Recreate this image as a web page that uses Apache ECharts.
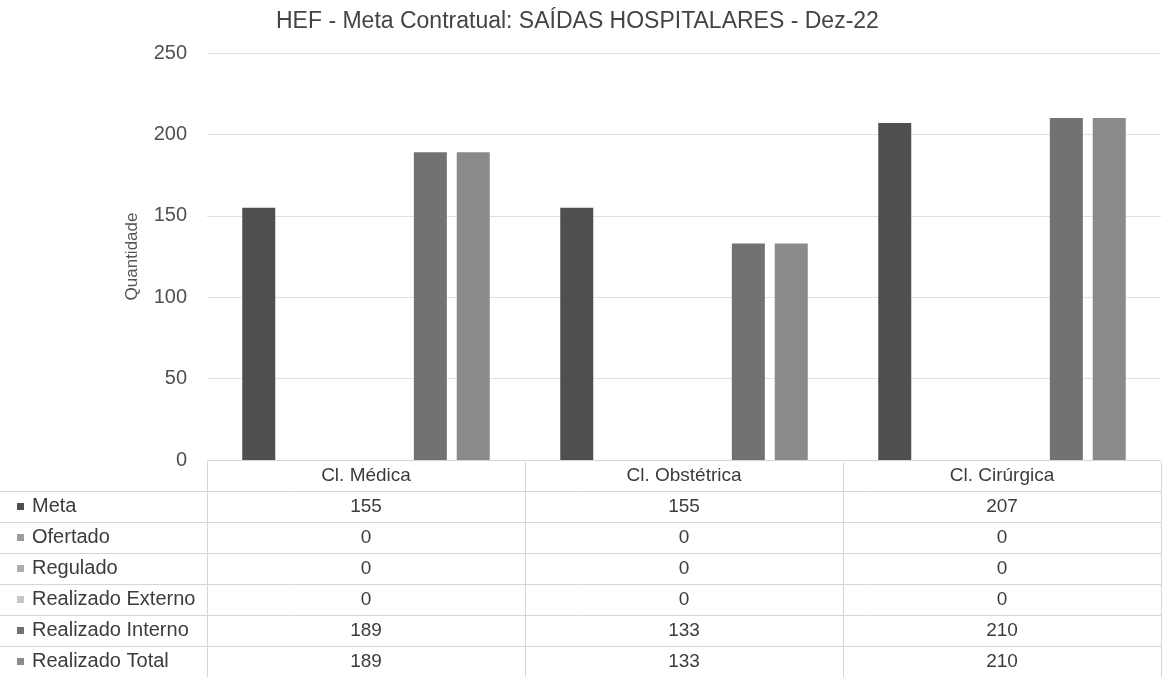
<!DOCTYPE html>
<html>
<head>
<meta charset="utf-8">
<script src="https://cdn.jsdelivr.net/npm/echarts@6/dist/echarts.min.js"></script>
<style>
html,body{margin:0;padding:0;background:#fff;}
#chart{width:1164px;height:677px;}
</style>
</head>
<body>
<div id="chart"></div>
<script>
var titleText = 'HEF - Meta Contratual: SAÍDAS HOSPITALARES - Dez-22';
var categories = ['Cl. Médica', 'Cl. Obstétrica', 'Cl. Cirúrgica'];
var seriesNames = ['Meta', 'Ofertado', 'Regulado', 'Realizado Externo', 'Realizado Interno', 'Realizado Total'];
var meta = [155, 155, 207];
var ofertado = [0, 0, 0];
var regulado = [0, 0, 0];
var realizadoExterno = [0, 0, 0];
var realizadoInterno = [189, 133, 210];
var realizadoTotal = [189, 133, 210];
var yTicks = [0, 50, 100, 150, 200, 250];

var seriesData = [meta, ofertado, regulado, realizadoExterno, realizadoInterno, realizadoTotal];
var colors = ['#4f4f4f', '#9c9c9c', '#adadad', '#c6c6c6', '#727272', '#8a8a8a'];
var FONT = '"Liberation Sans", Arial, sans-serif';
var TXT = '#3c3c3c';
var LINE = '#d6d6d6';

var chart = echarts.init(document.getElementById('chart'));

var series = seriesNames.map(function (name, i) {
  return {
    name: name,
    type: 'bar',
    xAxisIndex: 0,
    yAxisIndex: 0,
    data: seriesData[i],
    barWidth: 33,
    barGap: '30%',
    itemStyle: { color: colors[i] }
  };
});

var option = {
  animation: false,
  backgroundColor: '#fff',
  color: colors,
  title: {
    text: titleText,
    left: 271,
    top: 5,
    textStyle: { fontFamily: FONT, fontSize: 23, fontWeight: 'normal', color: '#444' }
  },
  legend: {
    orient: 'vertical',
    left: 17,
    top: 491,
    padding: 0,
    itemWidth: 7,
    itemHeight: 7,
    itemGap: 0,
    icon: 'rect',
    selectedMode: false,
    data: seriesNames,
    textStyle: { fontFamily: FONT, fontSize: 20, color: TXT, lineHeight: 31, padding: [0, 0, 0, 3] }
  },
  grid: [
    { left: 207, right: 3, top: 53, bottom: 215, containLabel: false },
    { left: 0, right: 3, top: 491, height: 186 },
    { left: 207, right: 3, top: 462, height: 215 }
  ],
  xAxis: [
    {
      type: 'category',
      gridIndex: 0,
      data: categories,
      axisLine: { show: true, lineStyle: { color: LINE, width: 1 } },
      axisTick: { show: false },
      splitLine: { show: false },
      axisLabel: {
        margin: 0,
        fontFamily: FONT,
        fontSize: 19,
        color: TXT,
        lineHeight: 31,
        formatter: function (value, index) {
          var lines = [value];
          for (var s = 0; s < seriesData.length; s++) lines.push(String(seriesData[s][index]));
          return lines.join('\n');
        }
      }
    },
    { type: 'value', gridIndex: 1, show: false, min: 0, max: 1 },
    {
      type: 'category',
      gridIndex: 2,
      data: categories,
      boundaryGap: true,
      axisLine: { show: false },
      axisTick: { show: false },
      axisLabel: { show: false },
      splitLine: { show: true, interval: 0, lineStyle: { color: LINE, width: 1 } }
    }
  ],
  yAxis: [
    {
      type: 'value',
      gridIndex: 0,
      min: yTicks[0],
      max: yTicks[yTicks.length - 1],
      interval: yTicks[1] - yTicks[0],
      name: 'Quantidade',
      nameLocation: 'middle',
      nameGap: 66,
      nameTextStyle: { fontFamily: FONT, fontSize: 17, color: '#555' },
      axisLine: { show: false },
      axisTick: { show: false },
      axisLabel: { margin: 20, fontFamily: FONT, fontSize: 20, color: '#505050' },
      splitLine: { show: true, lineStyle: { color: '#e0e0e0', width: 1 } }
    },
    {
      type: 'value',
      gridIndex: 1,
      min: 0,
      max: 6,
      interval: 1,
      axisLine: { show: false },
      axisTick: { show: false },
      axisLabel: { show: false },
      splitLine: { show: true, lineStyle: { color: LINE, width: 1 } }
    },
    {
      type: 'value',
      gridIndex: 2,
      show: false,
      min: 0,
      max: 1
    }
  ],
  series: series
};

chart.setOption(option);
</script>
</body>
</html>
